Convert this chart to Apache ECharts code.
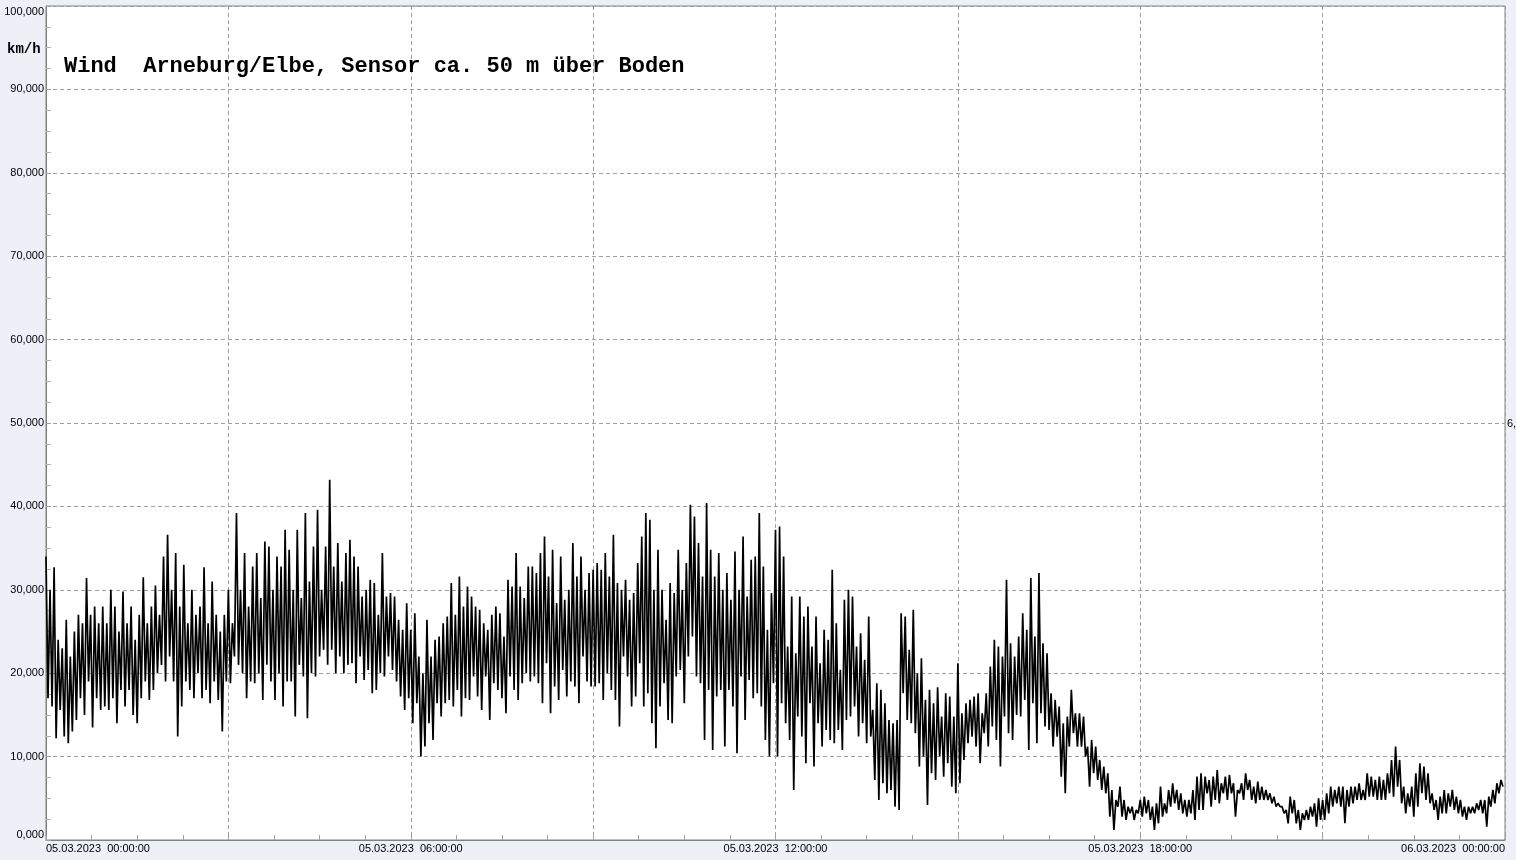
<!DOCTYPE html>
<html>
<head>
<meta charset="utf-8">
<script src="https://cdn.jsdelivr.net/npm/echarts@6/dist/echarts.min.js"></script>
<style>
html,body{margin:0;padding:0;background:#eef0f8;}
#c{width:1516px;height:860px;}
</style>
</head>
<body>
<div id="c"></div>
<script>
// Wind speed km/h, one value every 2 minutes, 05.03.2023 00:00 - 06.03.2023 00:00
const wind_00_06 = [
34,17,30,16,32.7,12.2,24,15.6,23,12.4,26.4,11.6,22,13,25,14.4,27,17,26,15,31.4,19,27,13.5,28,17,26,15.6,28,16,
26,15.6,30,17,28,14,25,18,29.8,16,26,18,28,15,24,14,27,17,31.5,19,26,16.8,28,18,30.5,20,27,21,34,19,
36.6,22,30,19,34.4,12.4,28,16,33,19,26,18,30,17,27,20,28,17,32.7,18,26,16.4,31,19,27,16.8,25,13,27,19,
30,18.8,26,22,39.2,21,30,20,34.4,17,28,19,32.8,18.8,34.4,20,29,16.8,35.8,21,35.2,19,30,16.8,34,20,32.8,16,37.2,19,
34.8,19,30,14.8,37.2,21,29,19.6,39.2,14.6,31,20,35.2,19.6,39.6,22,30,22.8,35.2,21,43.2,22.8,32.8,20,35.6,22,31,20,34.4,21,
36,21.2,34,18.8,32.8,22,29.2,19.2,30,20.4,31.2,17.6,30.8,18,27,20,34.4,19.6,29.2,22,29.6,20.4,29.2,19,26.4,17.2,25.2,15.6,28.4,17
];
const wind_06_12 = [
25.2,14,27.2,16.4,22,10,20,11.2,26.4,14,22,12,24,16.4,24.4,14.8,26,16.4,26.8,16.8,30.8,16,27,18,31.6,14.8,28,17,30.4,16.8,
29.2,19.6,28,17.2,27.6,15.6,26,19.6,25.2,14.4,27,18.8,28,18,27.2,17,24.4,15.2,31.2,19.6,30.4,18,34.4,16.8,30.4,18.8,29,20,32.8,19,
32.8,19.6,32,18.8,34.4,16.4,36.4,21.2,31.6,15.2,34.8,18.4,28.4,16.8,34,20.4,28.8,17.2,30,19,35.6,18.4,31.6,16.4,34,22,30,19,32,18.4,
32.4,18.4,33.2,18.8,32.4,16.8,34.4,20,31.6,18,36.6,16.8,30.8,13.6,30,22,31.2,19.6,28.8,16,29.6,17.2,33.2,21.2,36.4,16,39.2,17.6,38.4,14,
30,11,34.8,16,30,18.8,26.4,14.4,30.8,14,29.6,19.6,34.8,20.4,30,16.4,33.2,22,40.2,24.4,38.8,19.6,35.6,18.8,31.6,12,40.4,18,34.8,10.8,
31.6,17.2,34.4,18,30,11.2,32,18,28.8,16,34.6,10.4,30,19.6,36.4,14.4,29.2,19.2,33.6,17,34,17.6,39.2,16,32.8,12,25.2,10,29.6,18.8
];
const wind_12_18 = [
37.2,10,37.6,16.4,34,14,23.2,12,29.2,6,22.4,14.8,29.2,12.4,26.8,9.2,28,16.4,23.2,8.8,26.8,14,21.2,11.2,25.2,13.2,24,12,32.4,11.6,
26,13.2,20.4,10.8,28.8,14.4,30,14.8,29.2,16,23.2,12.4,24.8,14,21.6,11.6,26.8,12.4,15.6,7.2,18.8,4.8,18,6.8,16.4,5.6,14.4,6,14,4,
14.4,3.6,27.2,17.6,26.8,14.4,22.8,14,27.6,12.8,20,8.8,21.8,10,16.8,4.2,18,8,16.4,7.2,18.3,10,14.8,7.6,17.6,9.2,17.2,6.4,14.8,5.6,
21.2,6.8,15.2,9.6,16.4,11.6,16.8,12.4,17.2,11.2,17.6,9.2,15.2,12.8,17.6,11.2,20.8,13.6,24,12,23.2,8.8,22,14.8,31.2,12.8,23.6,12,22,15,
24.4,14.8,27.2,16.8,25.2,10.8,31.4,16.4,24.4,11.6,32,15.2,23.6,13.6,22.4,13.2,17.6,11.2,16.8,12.4,16,7.6,14,5.6,14.8,11.2,18,12.8,15.2,11.2,
15.2,11.2,14.8,10,11.2,6.4,12,8,11.2,7.2,9.6,6,8.8,5.6,8,2.8,6,1.2,4.8,4,6.4,2.8,4.8,2.4,4,3.2,4,2.4,3.6,3.2
];
const wind_18_24 = [
4.8,2.8,5.2,3.2,4.8,2.4,4,1.2,4.4,2,6.4,2.8,4.4,3.2,6,4,6.8,4.4,6,3.6,5.6,3.2,4.8,2.8,4.8,3.2,6,2.4,7.6,3.6,
8,3.6,7.6,5.6,7.2,4,7.6,4.8,8.4,4.4,6.8,5.6,7.6,4.8,7.8,5.6,6.8,2.8,6,5.6,6.8,4.8,8,6,7.2,4.8,6.4,4.4,7,4.8,
6.4,4.8,6,4.8,5.6,4.4,5.2,4,4.4,4,4,3.2,3.6,2,5.2,3.2,4.8,2,3.6,1.2,3.2,2.4,3.6,2.4,4,2.8,4.4,1.6,5,2.4,
4.8,2.4,5.6,3.2,6.4,4,6,4.4,6.4,4,6.4,2,6,4,6.4,4.4,6.4,4.8,6.8,4.8,6,4.8,8,5.2,7.6,5.2,7.2,4.8,7.6,4.8,
7.2,4.8,8,5.6,9.6,5.2,11.2,6.4,9.6,4.4,6.4,3.2,5.6,4,6.4,2.8,8,4,9.2,5.6,8.8,4.8,8,4.4,5.6,3.6,4.8,2.4,5.2,3.2,
6,3.2,5.6,4,6,3.6,5.2,3.2,4.8,2.8,4,2.4,4,3.2,4,3.2,4.4,3.6,4.8,3.2,4.8,1.6,5.2,4,6,4.4,6.8,5.6,7.2,6.4
];
const stepMinutes = 2;
const xTickLabels = ['05.03.2023  00:00:00','05.03.2023  06:00:00','05.03.2023  12:00:00','05.03.2023  18:00:00','06.03.2023  00:00:00'];
const titleText = 'Wind  Arneburg/Elbe, Sensor ca. 50 m über Boden';
const unitText = 'km/h';

const allVals = [].concat(wind_00_06, wind_06_12, wind_12_18, wind_18_24);
const seriesData = allVals.map((v, i) => [i * stepMinutes, v]);

const chart = echarts.init(document.getElementById('c'), null, {renderer: 'canvas'});
const labelFont = {fontFamily: '"Liberation Sans", Arial, sans-serif', fontSize: 11, color: '#000'};
chart.setOption({
  backgroundColor: '#eef0f8',
  animation: false,
  grid: {left: 46, right: 11, top: 6, bottom: 20, show: true, backgroundColor: '#ffffff', borderColor: '#808080', borderWidth: 1, containLabel: false},
  xAxis: {
    type: 'value', min: 0, max: 1440, interval: 180,
    axisLine: {show: true, lineStyle: {color: '#808080'}},
    axisTick: {show: true, inside: true, length: 5, lineStyle: {color: '#a0a0a0'}},
    minorTick: {show: true, splitNumber: 4, length: 5, lineStyle: {color: '#a0a0a0'}},
    splitLine: {show: true, lineStyle: {color: '#a0a0a0', type: [4, 3], width: 1}},
    axisLabel: Object.assign({
      margin: 3,
      showMinLabel: true, showMaxLabel: true,
      alignMinLabel: 'left', alignMaxLabel: 'right',
      formatter: function (v) { return v % 360 === 0 ? xTickLabels[v / 360] : ''; }
    }, labelFont)
  },
  yAxis: {
    type: 'value', min: 0, max: 100, interval: 10,
    axisLine: {show: true, lineStyle: {color: '#808080'}},
    axisTick: {show: true, inside: true, length: 5, lineStyle: {color: '#a0a0a0'}},
    minorTick: {show: true, splitNumber: 4, length: 5, lineStyle: {color: '#b0b0b0'}},
    splitLine: {show: true, lineStyle: {color: '#a0a0a0', type: [4, 3], width: 1}},
    axisLabel: Object.assign({
      margin: 2,
      verticalAlignMinLabel: 'bottom', verticalAlignMaxLabel: 'top',
      formatter: function (v) { return v.toFixed(3).replace('.', ','); }
    }, labelFont)
  },
  graphic: [
    {type: 'text', left: 64, top: 55, z: 100, style: {text: titleText, font: 'bold 22px "Liberation Mono", "Courier New", monospace', fill: '#000'}},
    {type: 'text', left: 7, top: 42, z: 100, style: {text: unitText, font: 'bold 14px "Liberation Mono", "Courier New", monospace', fill: '#000'}},
    {type: 'text', left: 1507, top: 418, z: 100, style: {text: '6,', font: '11px "Liberation Sans", Arial, sans-serif', fill: '#000'}}
  ],
  series: [{
    type: 'line', data: seriesData, showSymbol: false, symbol: 'none',
    sampling: null, clip: true,
    lineStyle: {color: '#000', width: 1.7},
    silent: true
  }]
});
</script>
</body>
</html>
